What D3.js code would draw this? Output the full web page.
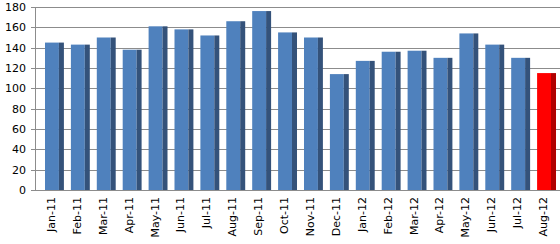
<!DOCTYPE html>
<html>
<head>
<meta charset="utf-8">
<script src="https://cdn.jsdelivr.net/npm/d3@7"></script>
<style>
    body { margin: 0; background: #fff; }
    text { font-family: "DejaVu Sans", Verdana, sans-serif; font-size: 11px; fill: #000; }
</style>
</head>
<body>
<div class="chart"></div>
<script>
// data
const months = ["Jan-11", "Feb-11", "Mar-11", "Apr-11", "May-11", "Jun-11", "Jul-11", "Aug-11", "Sep-11", "Oct-11",
    "Nov-11", "Dec-11", "Jan-12", "Feb-12", "Mar-12", "Apr-12", "May-12", "Jun-12", "Jul-12", "Aug-12"];
const values = [145, 143, 150, 138, 161, 158, 152, 166, 176, 155,
    150, 114, 127, 136, 137, 130, 154, 143, 130, 115];
const yTicks = [0, 20, 40, 60, 80, 100, 120, 140, 160, 180];
const highlightMonth = "Aug-12";

const width = 560, height = 244;
const plot = { left: 35, right: 560, top: 7, bottom: 190 };

let svg = d3.select(".chart").append("svg")
    .attr("width", width)
    .attr("height", height);

let x = d3.scaleBand()
    .domain(months)
    .range([41.5, 559.5])
    .paddingInner(0.27)
    .paddingOuter(0.135);

let y = d3.scaleLinear()
    .domain([0, 180])
    .range([plot.bottom, plot.top]);

// gridlines
svg.append("g")
    .selectAll("line")
    .data(yTicks)
    .enter()
        .append("line")
        .attr("x1", plot.left - 4)
        .attr("x2", plot.right)
        .attr("y1", d => Math.round(y(d)) + 0.5)
        .attr("y2", d => Math.round(y(d)) + 0.5)
        .attr("stroke", "#8c8c8c")
        .attr("stroke-width", 1);

// vertical axis line
svg.append("line")
    .attr("x1", plot.left + 0.5)
    .attr("x2", plot.left + 0.5)
    .attr("y1", y(180))
    .attr("y2", y(0))
    .attr("stroke", "#8c8c8c");

// y labels
svg.append("g")
    .selectAll("text")
    .data(yTicks)
    .enter()
        .append("text")
        .attr("x", 26)
        .attr("y", d => y(d))
        .attr("dy", "0.36em")
        .attr("text-anchor", "end")
        .text(d => d);

// bars: front face + dark side
const sideW = 5;
let bar = svg.append("g")
    .selectAll("g")
    .data(months.map((m, i) => ({ month: m, value: values[i] })))
    .enter()
        .append("g");

bar.append("rect")
    .attr("x", d => x(d.month))
    .attr("y", d => y(d.value))
    .attr("width", x.bandwidth() - sideW)
    .attr("height", d => y(0) - y(d.value))
    .attr("fill", d => d.month === highlightMonth ? "#ff0000" : "#4f81bd");

bar.append("rect")
    .attr("x", d => x(d.month) + x.bandwidth() - sideW)
    .attr("y", d => y(d.value))
    .attr("width", sideW)
    .attr("height", d => y(0) - y(d.value))
    .attr("fill", d => d.month === highlightMonth ? "#b00000" : "#34527a");

// x labels
svg.append("g")
    .selectAll("text")
    .data(months)
    .enter()
        .append("text")
        .attr("transform", d => "translate(" + (x(d) + (x.bandwidth() - sideW) / 2 - 1) + ",197) rotate(-90)")
        .attr("dy", "0.36em")
        .attr("text-anchor", "end")
        .text(d => d);
</script>
</body>
</html>
